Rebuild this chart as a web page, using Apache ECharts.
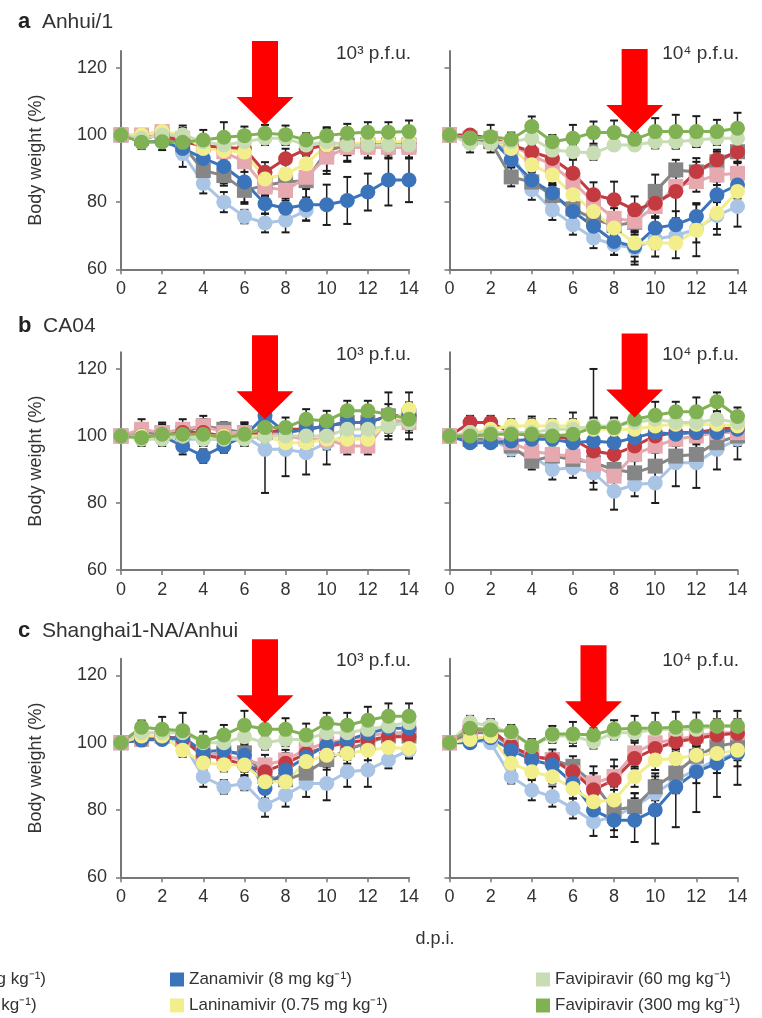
<!DOCTYPE html>
<html>
<head>
<meta charset="utf-8">
<script src="https://cdn.jsdelivr.net/npm/echarts@6/dist/echarts.min.js"></script>
<style>
  html, body { margin: 0; padding: 0; background: #fff; }
  #chart { width: 762px; height: 1018px; }
</style>
</head>
<body>
<div id="chart"></div>
<script>
// days post infection
const days = [0, 1, 2, 3, 4, 5, 6, 7, 8, 9, 10, 11, 12, 13, 14];
const yTicks = [60, 80, 100, 120];

// series order: PBS, Oseltamivir 5, Oseltamivir 50, Peramivir, Zanamivir, Laninamivir, Favipiravir 60, Favipiravir 300
const seriesNames = [
  "PBS",
  "Oseltamivir (5 mg kg⁻¹)",
  "Oseltamivir (50 mg kg⁻¹)",
  "Peramivir (30 mg kg⁻¹)",
  "Zanamivir (8 mg kg⁻¹)",
  "Laninamivir (0.75 mg kg⁻¹)",
  "Favipiravir (60 mg kg⁻¹)",
  "Favipiravir (300 mg kg⁻¹)",
];
const seriesColors = ["#a9c4e4", "#868686", "#e7a9b0", "#c33b40", "#3c74bb", "#f2ee8c", "#c9ddb4", "#80b253"];
const seriesSymbols = ["circle", "rect", "rect", "circle", "circle", "circle", "circle", "circle"];

// a: Anhui/1, 10^3 p.f.u.
const anhui3 = [
  [100, 99, 100, 94.5, 85.6, 80, 75.7, 73.8, 74.6, 77.5, null, null, null, null, null],
  [100, 99, 100, 97, 89.4, 87.9, 83.5, 85, 86, 86.4, 95.3, 97, 97, 97, 97],
  [100, 100, 101, 99, 97, 95, 92, 84.5, 83.5, 87.4, 93.4, 96.3, 96.3, 96.3, 96.3],
  [100, 99, 100, 98, 96.8, 96.3, 96, 88.9, 92.9, 95.8, 97, 97, 97.5, 97.5, 97.5],
  [100, 98, 98, 96, 93, 90.6, 86, 79.5, 78.2, 79.2, 79.2, 80.5, 83, 86.6, 86.6],
  [100, 100, 101, 100, 96, 95.3, 94.9, 86.9, 88.4, 91.4, 97, 97, 98, 98, 98],
  [100, 99, 100, 100, 98, 97, 98, 99, 99, 97, 98, 97, 97, 97, 97],
  [100, 97.8, 98, 97.8, 98.5, 99.3, 99.8, 100.5, 100.1, 98.5, 99.8, 100.5, 100.8, 100.8, 101],
];
const anhui3Err = [
  [0, 1, 1, 4, 3, 3, 2, 2.8, 3.6, 3, null, null, null, null, null],
  [0, 1, 1, 2, 3, 3, 4, 3, 3, 5, 6, 5, 4, 4, 4],
  [0, 1, 1, 2, 2, 2, 3, 3, 3, 3, 5, 4, 3, 3, 3],
  [0, 1, 1, 2, 2, 2, 2, 3, 3, 2, 5, 3, 3, 3, 3],
  [0, 1, 1.5, 2, 3, 5, 6, 3, 3, 4.7, 6, 7, 5.5, 7.6, 6.6],
  [0, 1, 1, 2, 2, 2, 3, 3, 3, 3, 4, 3, 3, 3, 3],
  [0, 1, 1, 2, 2, 2, 2, 2, 2, 2, 2, 2, 2, 2, 2],
  [0, 2, 2.5, 5, 3, 4.5, 2.7, 2.5, 2.7, 2, 2.5, 2.8, 3, 3, 3.3],
];

// a: Anhui/1, 10^4 p.f.u.
const anhui4 = [
  [100, 99, 98, 95, 83.7, 77.7, 73.3, 69.3, 67.3, 66.3, 69, 70, 72, 76, 78.7],
  [100, 99, 98, 87.5, 86, 82, 78, 75, 73, 74, 83.2, 89.6, 89, 92, 95],
  [100, 99, 99, 97, 94, 91, 86, 80, 75.2, 74.3, 78.7, 84.7, 86.1, 88.1, 88.6],
  [100, 100, 99, 97, 95, 93, 88.6, 82.2, 80.7, 77.7, 79.7, 83.2, 89.1, 92.6, 95],
  [100, 99, 99, 92.6, 86.6, 82.7, 77.2, 72.8, 68.3, 66.8, 72.3, 73.3, 75.7, 82.2, 85.1],
  [100, 99, 99, 96, 91.1, 88.1, 82.2, 77.2, 72.3, 67.8, 67.8, 67.8, 71.6, 76.7, 83.2],
  [100, 97.5, 97.5, 98, 99, 95.5, 95, 94.6, 97, 97, 98, 98, 98.5, 99, 99],
  [100, 99, 99.5, 98.7, 102.5, 98, 99, 100.7, 100.7, 98.7, 101, 101, 101, 101, 102],
];
const anhui4Err = [
  [0, 1, 1, 2, 3, 3, 3, 3, 3, 4, 3, 3, 4, 4, 6],
  [0, 1, 1, 2.8, 3, 3, 3, 3, 3, 3, 5, 3, 3, 3, 3],
  [0, 1, 1, 2, 2, 2, 3, 3, 3, 3, 3, 3, 3, 3, 3],
  [0, 1, 1, 2, 3, 3, 4, 3.7, 5.4, 4, 4, 8, 4, 3, 3],
  [0, 1, 1, 2, 3, 3, 3, 3.5, 4, 5.4, 3, 4, 4, 4, 4],
  [0, 1, 1, 2, 3, 3, 3, 3, 3, 4, 4, 4.5, 7.7, 6.4, 4],
  [0, 2.7, 2.7, 2, 2, 2, 2, 2, 1.5, 1.5, 2, 2, 2, 2, 2],
  [0, 2, 3.5, 2, 3, 2, 4, 3.3, 3.6, 2, 4, 5, 4.6, 3.5, 4.6],
];

// b: CA04, 10^3 p.f.u.
const ca3 = [
  [100, 100, 100, 99, 99, 99, 100, 96, 96, 95, 98, 100, 100, 103, 105],
  [100, 101, 101, 101, 103, 102, 101, 101, 101, 102, 103, 104, 104, 106, 106],
  [100, 102, 101, 102, 103, 101, 101, 101, 100, 99, 99, 97, 97, 105, 104],
  [100, 100, 100, 101, 101, 100, 100, 101, 102, 102, 103, 104, 104, 106, 106],
  [100, 100, 100, 97, 94, 97, 100, 106, 101, 102, 103, 104, 104, 106, 106],
  [100, 100, 100, 100, 100, 100, 100, 100, 98, 98, 99, 99, 99, 104, 108],
  [100, 99, 99, 100, 99, 99, 99, 100, 100, 100, 100, 102, 102, 103, 104],
  [100, 99.5, 100.5, 100.5, 100.5, 99.5, 100.5, 102.5, 102.5, 105, 104.5, 107.5, 107.5, 106.5, 105],
];
const ca3Err = [
  [0, 2, 2, 2, 2, 3, 3, 13, 8, 6.5, 6.5, 3, 3, 3, 3],
  [0, 2, 2, 2, 2, 2, 3, 3, 3, 3, 3, 3, 3, 7, 7],
  [0, 3, 3, 3, 3, 3, 3, 3, 3, 3, 3, 2.5, 2.5, 3, 3],
  [0, 2, 2, 2, 2, 2, 2, 2, 2, 2, 2, 2, 2, 2, 2],
  [0, 2, 2, 2.5, 2, 2, 2, 3, 2, 2, 2, 2, 2, 2, 2],
  [0, 2, 2, 2, 2, 2, 2, 2, 2, 2, 2, 2, 2, 2, 2],
  [0, 2, 2, 2, 2, 2, 2, 2, 2, 2, 2, 2, 2, 2, 2],
  [0, 2, 3, 3, 3, 3, 3, 3, 3, 3, 3, 3, 3, 3, 3],
];

// b: CA04, 10^4 p.f.u.
const ca4 = [
  [100, 99, 99, 96, 94, 90, 90.5, 89, 83.5, 85.5, 86, 92, 92, 96, 99],
  [100, 99, 99, 97, 92.5, 94, 93, 92, 90, 89, 91, 94, 94.5, 98, 100],
  [100, 100, 100, 98, 95.5, 94.5, 94, 91.5, 88, 94.5, 97, 99, 100, 101, 101],
  [100, 104, 104, 101, 100, 100, 99, 95.5, 94.5, 97, 100, 101, 101, 102, 102.5],
  [100, 98, 98, 98.5, 99, 99, 98, 98.5, 98, 99.5, 101, 100.5, 101.2, 101, 102],
  [100, 101, 102, 103, 103, 103, 103, 102, 102, 102, 103, 103.5, 103.5, 103.5, 103],
  [100, 101, 101, 101, 101, 102, 102, 103, 103, 104, 105, 104, 104, 105, 104],
  [100, 100, 100.5, 100.5, 100.5, 100, 100.5, 102.5, 102.5, 105, 106.2, 107.2, 107.2, 110.2, 105.8],
];
const ca4Err = [
  [0, 1, 1, 2, 2, 3, 3, 3, 5.5, 3.5, 6, 7, 7.5, 6, 6],
  [0, 1, 1, 2, 2.5, 2, 2, 3, 3, 5, 5, 3, 3, 3, 3],
  [0, 1, 1, 2, 2, 2, 2, 3, 3, 2, 2, 2, 2, 2, 2],
  [0, 2, 2, 2, 2, 2, 2, 3, 3, 2, 2, 2, 2, 2, 2],
  [0, 1, 1, 1.5, 1.5, 1.5, 1.5, 2, 2, 2, 2, 2, 2, 2, 2],
  [0, 2, 2, 2, 2, 2, 2, 18, 2, 2, 2, 2, 2, 2, 2],
  [0, 2, 2, 2, 4.8, 2, 5, 2, 2, 2, 2, 2, 2, 2, 2],
  [0, 2, 2, 2, 2, 2, 2, 3, 3, 5, 4, 3, 4.3, 2.8, 2.7],
];

// c: Shanghai1-NA/Anhui, 10^3 p.f.u.
const sh3 = [
  [100, 101, 102, 100, 89.9, 86.9, 87.9, 81.5, 84.5, 87.9, 87.9, 91.4, 91.9, 94.9, 97.8],
  [100, 101, 102, 101, 96, 97, 97, 90, 89, 91, 95, 98, 100, 102, 102],
  [100, 101, 102, 101, 97, 96, 95, 93.4, 94.9, 98, 100, 101, 102, 103, 103],
  [100, 101, 102, 101, 96.3, 95.3, 93.4, 91.4, 93.9, 96.8, 98.8, 100, 100.8, 101.8, 101.8],
  [100, 100.8, 101, 101.8, 97.3, 97.8, 96.3, 86.4, 91.9, 95.8, 99.3, 100.8, 102.8, 104.3, 104.3],
  [100, 102, 102, 97.8, 94, 93.5, 93.4, 88.4, 88.4, 94.4, 96.3, 96.8, 97.8, 98.6, 98.3],
  [100, 103, 103, 103, 100, 100, 101.8, 100, 101, 101, 103, 103, 104, 105, 106],
  [100, 104.6, 104, 103.6, 100.3, 102.3, 105.2, 104, 104, 102.3, 105.9, 105.2, 106.7, 107.9, 107.9],
];
const sh3Err = [
  [0, 1, 1, 2, 3, 2, 2, 3.5, 3.5, 4, 5, 4.5, 5, 2.5, 2],
  [0, 1, 1, 2, 2, 2, 2, 3, 5, 4, 3, 3, 3, 3, 3],
  [0, 1, 1, 2, 2, 2, 2, 3, 3, 3, 3, 3, 3, 3, 3],
  [0, 1, 1, 2, 2, 2, 2, 3, 3, 3, 3, 3, 3, 3, 3],
  [0, 1, 1, 2, 2, 2, 3, 3, 3, 3, 3, 3, 3, 3, 3],
  [0, 1, 1, 2, 2, 2, 3, 3, 3, 3, 3, 3, 3, 3, 3],
  [0, 2, 2, 2, 2, 2, 2, 2, 2, 2, 2, 2, 2, 2, 2],
  [0, 2, 3.7, 5.3, 3, 3, 4.3, 3, 3.3, 3.4, 3, 3.7, 4, 3.8, 3.8],
];

// c: Shanghai1-NA/Anhui, 10^4 p.f.u.
const sh4 = [
  [100, 101, 100, 89.9, 85.9, 84, 80.5, 76.5, 78, 81, 85, 89, 92, 95, 97],
  [100, 103, 103, 99, 96, 95, 93, 88, 80, 81, 86.9, 91, 96, 99, 100],
  [100, 104, 104, 99, 96, 95, 91, 87.9, 90, 97, 100, 101, 102, 103, 103],
  [100, 104, 104, 99, 96, 95, 91.4, 86, 89, 95.3, 98.3, 100.3, 101.3, 102.3, 102.8],
  [100, 100, 101.5, 97.8, 94.9, 93.4, 88, 80, 77, 77, 80, 86.9, 91.4, 93.9, 97],
  [100, 101, 102, 93.9, 91.4, 89.9, 86.4, 82.5, 83, 89.9, 94.9, 95.3, 96.3, 96.8, 97.8],
  [100, 106, 105, 103, 99, 102, 102, 100.3, 103, 103, 104, 104, 104, 105, 105],
  [100, 104.3, 103.8, 103.3, 99, 102.6, 102.6, 102.3, 104, 104.3, 104.3, 104.6, 105, 105, 105],
];
const sh4Err = [
  [0, 1, 1, 2, 3, 3, 3, 4.2, 4, 4, 4, 4, 4, 4, 4],
  [0, 2, 2, 2, 2, 2, 3, 3, 4, 4, 4, 4, 3, 3, 3],
  [0, 2, 2, 2, 2, 2, 3, 3, 3, 3, 3, 3, 3, 3, 3],
  [0, 2, 2, 2, 3, 3, 3, 7, 6, 3, 3, 3, 3, 3, 3],
  [0, 1, 1, 2, 2, 3, 3, 3, 5, 6.5, 10, 12, 12, 10, 9.5],
  [0, 2, 2, 2, 2, 2, 3, 3, 3, 3, 3, 3, 3, 3, 3],
  [0, 2, 2, 2, 2, 2, 2, 2, 2, 2, 2, 2, 2, 2, 2],
  [0, 2, 3, 2, 2, 2.4, 3.6, 2, 2.7, 3.7, 4.6, 4.6, 4, 4.4, 4.5],
];

const panelValues = [anhui3, anhui4, ca3, ca4, sh3, sh4];
const panelErrors = [anhui3Err, anhui4Err, ca3Err, ca4Err, sh3Err, sh4Err];
const panelDose = ["10³ p.f.u.", "10⁴ p.f.u.", "10³ p.f.u.", "10⁴ p.f.u.", "10³ p.f.u.", "10⁴ p.f.u."];
const rowLetters = ["a", "b", "c"];
const rowTitles = ["Anhui/1", "CA04", "Shanghai1-NA/Anhui"];
// red arrows: day they point at and the weight level of the tip
const arrowDays = [7, 9, 7, 9, 7, 7];
const arrowTips = [103, 100.6, 105, 105.5, 105.8, 104];

const FONT = "'Liberation Sans', Arial, Helvetica, sans-serif";
const TEXT = "#333";
const AXIS = "#777";
const LEGEND_SIZE = 17;

const chart = echarts.init(document.getElementById("chart"), null, { renderer: "canvas" });

const rowTop = [51, 352.2, 658.7];
const rowHeight = [218.3, 217.8, 218.6];
const colLeft = [121, 449.5];
const plotWidth = 288;

const grids = [], xAxes = [], yAxes = [], series = [], titles = [];

const arrowPath = "path://M15.5,0 L41.5,0 L41.5,56 L57,56 L28.5,84 L0,56 L15.5,56 Z";

panelValues.forEach((values, pi) => {
  const row = Math.floor(pi / 2), col = pi % 2;
  grids.push({
    left: colLeft[col], top: rowTop[row], width: plotWidth, height: rowHeight[row],
    containLabel: false, outerBoundsMode: "none",
  });
  xAxes.push({
    gridIndex: pi, type: "value", min: 0, max: 14, interval: 2,
    axisLine: { show: true, onZero: false, lineStyle: { color: AXIS, width: 2 } },
    axisTick: { show: true, length: 5, lineStyle: { color: AXIS, width: 1.5 } },
    axisLabel: { color: TEXT, fontSize: 18, fontFamily: FONT, margin: 11 },
    splitLine: { show: false },
  });
  yAxes.push({
    gridIndex: pi, type: "value", min: 60, max: 125, interval: 20,
    name: col === 0 ? "Body weight (%)" : "",
    nameLocation: "middle", nameGap: 76,
    nameTextStyle: { color: TEXT, fontSize: 18, fontFamily: FONT },
    axisLine: { show: true, lineStyle: { color: AXIS, width: 2 } },
    axisTick: { show: true, length: 5, customValues: yTicks, lineStyle: { color: AXIS, width: 1.5 } },
    axisLabel: { show: col === 0, customValues: yTicks, color: TEXT, fontSize: 18, fontFamily: FONT, margin: 14 },
    splitLine: { show: false },
  });

  values.forEach((vals, si) => {
    const s = {
      type: "line",
      name: seriesNames[si],
      xAxisIndex: pi, yAxisIndex: pi,
      data: days.map((d, i) => [d, vals[i]]).filter((p) => p[1] != null),
      symbol: seriesSymbols[si],
      symbolSize: 15,
      lineStyle: { color: seriesColors[si], width: 3 },
      itemStyle: { color: seriesColors[si] },
      z: 2,
      animation: false,
      silent: true,
    };
    if (si === values.length - 1) {
      s.markPoint = {
        symbol: arrowPath,
        symbolSize: [57, 84],
        symbolOffset: [0, -42],
        itemStyle: { color: "#ff0000" },
        label: { show: false },
        silent: true,
        animation: false,
        data: [{ coord: [arrowDays[pi], arrowTips[pi]] }],
      };
    }
    series.push(s);
  });

  const errData = [];
  panelErrors[pi].forEach((errs, si) => {
    errs.forEach((e, i) => {
      if (e != null && e > 0 && values[si][i] != null) errData.push([days[i], values[si][i], e]);
    });
  });
  series.push({
    type: "custom",
    xAxisIndex: pi, yAxisIndex: pi,
    z: 1,
    silent: true,
    animation: false,
    encode: { x: 0, y: 1 },
    data: errData,
    renderItem: (params, api) => {
      const x = api.value(0), y = api.value(1), e = api.value(2);
      const top = api.coord([x, y + e]);
      const bot = api.coord([x, y - e]);
      const w = 4;
      const bar = { stroke: "#1b1b1b", lineWidth: 1.5 };
      const cap = { stroke: "#1b1b1b", lineWidth: 2 };
      return {
        type: "group",
        children: [
          { type: "line", shape: { x1: top[0], y1: top[1], x2: bot[0], y2: bot[1] }, style: bar },
          { type: "line", shape: { x1: top[0] - w, y1: top[1], x2: top[0] + w, y2: top[1] }, style: cap },
          { type: "line", shape: { x1: bot[0] - w, y1: bot[1], x2: bot[0] + w, y2: bot[1] }, style: cap },
        ],
      };
    },
  });

  titles.push({
    text: panelDose[pi],
    right: col === 0 ? 762 - 416 : 762 - 744,
    top: rowTop[row] - 12,
    textStyle: { color: TEXT, fontSize: 19, fontWeight: "normal", fontFamily: FONT },
  });
});

rowLetters.forEach((letter, r) => {
  titles.push({
    text: "{b|" + letter + "}  " + rowTitles[r],
    left: 13,
    top: [6, 310, 615][r],
    textStyle: {
      color: TEXT, fontSize: 21, fontWeight: "normal", fontFamily: FONT,
      rich: { b: { fontSize: 22, fontWeight: "bold", color: "#222", fontFamily: FONT } },
    },
  });
});

titles.push({
  text: "d.p.i.",
  left: 430, top: 925,
  textAlign: "center",
  textStyle: { color: TEXT, fontSize: 18, fontWeight: "normal", fontFamily: FONT },
});

// legend: four columns of two rows; the first two columns run off the left edge
const legendColumns = [
  [seriesNames[0], seriesNames[3]],
  [seriesNames[2], seriesNames[1]],
  [seriesNames[4], seriesNames[5]],
  [seriesNames[6], seriesNames[7]],
];
const measureCtx = document.createElement("canvas").getContext("2d");
measureCtx.font = LEGEND_SIZE + "px " + FONT;
const col2Left = 46 - 14 - 5 - measureCtx.measureText(legendColumns[1][0]).width;
const legendLeft = [col2Left - 365, col2Left, 170, 536];
const legends = legendColumns.map((names, i) => ({
  data: names,
  left: legendLeft[i],
  top: 971,
  orient: "vertical",
  padding: 0,
  itemGap: 9,
  itemWidth: 14,
  itemHeight: 14,
  icon: "rect",
  selectedMode: false,
  textStyle: { color: TEXT, fontSize: LEGEND_SIZE, fontFamily: FONT },
}));

chart.setOption({
  backgroundColor: "#ffffff",
  animation: false,
  title: titles,
  legend: legends,
  grid: grids,
  xAxis: xAxes,
  yAxis: yAxes,
  series: series,
});
</script>
</body>
</html>
